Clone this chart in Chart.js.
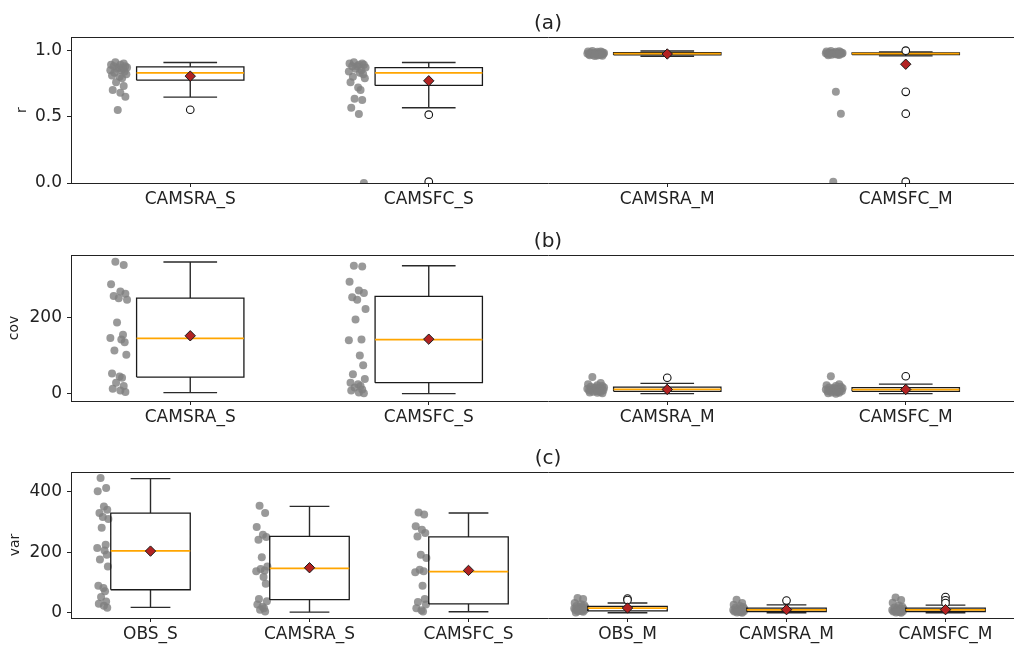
<!DOCTYPE html>
<html><head><meta charset="utf-8">
<script src="https://cdn.jsdelivr.net/npm/chart.js@4.4.0/dist/chart.umd.min.js"></script>
<style>
html,body{margin:0;padding:0;background:#fff;overflow:hidden;width:1014px;height:645px;}
#wrap{position:absolute;left:0;top:0;width:1014px;height:645px;overflow:hidden;}
.p{position:absolute;left:0;width:1030px;height:215px;}
</style></head><body>
<div id="wrap">
<div class="p" style="top:0px"><canvas id="ca" width="1030" height="215"></canvas></div>
<div class="p" style="top:218px"><canvas id="cb" width="1030" height="215"></canvas></div>
<div class="p" style="top:435px"><canvas id="cc" width="1030" height="215"></canvas></div>
</div>
<script>
// ---------- Panel (a): r ----------
const aCats = ['CAMSRA_S','CAMSFC_S','CAMSRA_M','CAMSFC_M'];
const aTicks = [0, 0.5, 1.0];
const aPoints = [
  [0.91,0.90,0.89,0.89,0.88,0.88,0.87,0.87,0.86,0.86,0.85,0.85,0.84,0.83,0.82,0.81,0.80,0.79,0.76,0.73,0.70,0.68,0.65,0.55],
  [0.91,0.90,0.90,0.89,0.89,0.88,0.88,0.87,0.86,0.85,0.84,0.83,0.82,0.80,0.79,0.76,0.72,0.70,0.635,0.625,0.567,0.52,0.0],
  [0.995,0.99,0.99,0.988,0.985,0.983,0.981,0.98,0.978,0.977,0.976,0.975,0.974,0.973,0.972,0.97,0.969,0.968,0.966,0.965,0.963,0.96,0.958,0.956],
  [0.995,0.993,0.99,0.988,0.985,0.984,0.982,0.98,0.979,0.978,0.977,0.976,0.975,0.974,0.973,0.972,0.97,0.968,0.966,0.964,0.962,0.687,0.522,0.01]
];
const aQ1   = [0.775, 0.735, 0.965, 0.967];
const aMed  = [0.83, 0.83, 0.975, 0.975];
const aQ3   = [0.875, 0.87, 0.982, 0.981];
const aWlo  = [0.647, 0.567, 0.955, 0.958];
const aWhi  = [0.908, 0.908, 0.995, 0.988];
const aMean = [0.805, 0.77, 0.972, 0.895];
const aOut  = [[0.552], [0.515, 0.01], [], [0.997, 0.687, 0.522, 0.01]];

// ---------- Panel (b): cov ----------
const bCats = ['CAMSRA_S','CAMSFC_S','CAMSRA_M','CAMSFC_M'];
const bTicks = [0, 200];
const bPoints = [
  [349,340,289,270,264,258,252,248,188,156,147,143,136,114,103,53,45,42,29,20,13,8,4],
  [338,336,296,273,266,255,248,224,196,143,141,101,75,51,39,29,25,20,16,11,8,3,1],
  [44,28,25,22,20,18,17,16,15,14,13,12,11,10,9,8,7,6,5,4,3,2,1],
  [46,25,22,20,18,16,15,14,13,12,11,10,9,8,7,6,5,4,3,2,1,0]
];
const bQ1   = [43.7, 29, 6, 6];
const bMed  = [146, 143, 11, 10.5];
const bQ3   = [252.6, 257, 17, 16];
const bWlo  = [2.6, 0, 0, 0];
const bWhi  = [348, 338, 27, 25];
const bMean = [153, 144, 11, 11];
const bOut  = [[], [], [42], [46]];

// ---------- Panel (c): var ----------
const cCats = ['OBS_S','CAMSRA_S','CAMSFC_S','OBS_M','CAMSRA_M','CAMSFC_M'];
const cTicks = [0, 200, 400];
const cPoints = [
  [446,413,402,352,341,330,317,310,281,225,214,206,192,176,153,89,82,71,52,37,30,23,16],
  [354,330,284,258,251,242,184,153,145,140,137,118,96,45,38,27,20,15,10,4],
  [332,325,286,275,264,252,192,181,142,137,134,89,45,35,27,15,8,4],
  [49,45,32,28,25,22,20,18,16,15,14,13,12,11,10,9,8,6,5,3,1],
  [43,32,26,22,19,16,14,12,11,10,9,8,7,6,5,4,3,2,1,0],
  [50,42,33,24,20,17,15,13,11,10,9,8,7,6,5,4,3,2,1,0]
];
const cQ1   = [76, 43, 29, 6, 4, 4];
const cMed  = [205, 147, 136, 15, 9, 9];
const cQ3   = [330, 253, 251, 21, 15, 15];
const cWlo  = [17.6, 2, 3, 0, 0, 0];
const cWhi  = [444, 352, 330, 32, 26, 25];
const cMean = [204, 149, 140, 15.5, 10, 10];
const cOut  = [[], [], [], [47, 42], [40], [52, 41, 32]];

// strip-plot horizontal jitter pattern (category units)
const jit = [-0.014,0.021,-0.032,0.007,0.028,-0.021,0.0,0.035,-0.007,0.018,-0.035,0.011,0.025,-0.018,0.032,-0.028,0.004,0.014,-0.011,0.021,-0.025,0.007,0.028,-0.004];

const FONT = 'DejaVu Sans';
const INK = '#222';
Chart.defaults.font.family = FONT;

function build(id, cfg) {
  const {title, ylabel, cats, pts, q1, med, q3, wlo, whi, mean, out, ymin, ymax, ticks, fmt, boxW, yPad, tPad} = cfg;
  const GAP = {x: NaN, y: null};
  const strip = [], outl = [], means = [], meds = [], boxes = [], whisk = [];
  const hw = boxW / 2, cw = boxW / 4;
  cats.forEach((c, i) => {
    const p = i + 1;
    pts[i].forEach((v, k) => strip.push({x: p - 0.3 + jit[k % jit.length], y: v}));
    out[i].forEach(v => outl.push({x: p, y: v}));
    means.push({x: p, y: mean[i]});
    meds.push({x: p - hw, y: med[i]}, {x: p + hw, y: med[i]}, GAP);
    boxes.push({x: p - hw, y: q1[i]}, {x: p + hw, y: q1[i]}, {x: p + hw, y: q3[i]}, {x: p - hw, y: q3[i]}, {x: p - hw, y: q1[i]}, GAP);
    whisk.push({x: p, y: q1[i]}, {x: p, y: wlo[i]}, GAP,
               {x: p, y: q3[i]}, {x: p, y: whi[i]}, GAP,
               {x: p - cw, y: wlo[i]}, {x: p + cw, y: wlo[i]}, GAP,
               {x: p - cw, y: whi[i]}, {x: p + cw, y: whi[i]}, GAP);
  });
  const lineDs = (data, color, w) => ({data, showLine: true, borderColor: color, borderWidth: w, pointRadius: 0, fill: false, spanGaps: false, clip: 0, borderCapStyle: 'butt', borderJoinStyle: 'miter'});
  const xMax = cats.length + 0.5;
  return new Chart(document.getElementById(id), {
    type: 'scatter',
    data: {datasets: [
      {data: means, pointStyle: 'rectRot', pointRadius: 5.2, backgroundColor: '#b22222', borderColor: '#1a1a1a', borderWidth: 1, clip: 0},
      {data: outl, pointStyle: 'circle', pointRadius: 3.8, backgroundColor: '#fff', borderColor: '#111', borderWidth: 1.1, clip: 0},
      lineDs(meds, '#ffa500', 1.8),
      lineDs(boxes, '#1a1a1a', 1.3),
      lineDs(whisk, '#2a2a2a', 1.4),
      {data: strip, pointRadius: 4, backgroundColor: 'rgba(128,128,128,0.8)', borderWidth: 0, clip: 0}
    ]},
    options: {
      responsive: false, animation: false, events: [],
      layout: {padding: {left: 0, right: 5, top: 0, bottom: 0}, autoPadding: false},
      plugins: {
        legend: {display: false}, tooltip: {enabled: false},
        title: {display: true, text: title, fullSize: false, color: INK,
                font: {family: FONT, size: 20, weight: 'normal'}, padding: {top: tPad, bottom: 37 - 24 - tPad}}
      },
      scales: {
        x: {
          type: 'linear', min: 0.5, max: xMax,
          afterBuildTicks: s => { s.ticks = cats.map((c, i) => ({value: i + 1})); },
          afterFit: s => { s.height = 32; },
          ticks: {autoSkip: false, maxRotation: 0, minRotation: 0, padding: 2, color: INK,
                  font: {family: FONT, size: 17}, callback: v => cats[Math.round(v) - 1]},
          grid: {display: true, drawOnChartArea: false, drawTicks: true, tickLength: 4, color: INK, tickColor: INK, tickWidth: 1},
          border: {display: true, color: INK, width: 1}
        },
        xTop: {
          type: 'linear', position: 'top', min: 0.5, max: xMax, display: true,
          afterFit: s => { s.height = 0; },
          ticks: {display: false}, grid: {display: false, drawTicks: false},
          border: {display: true, color: INK, width: 1}
        },
        y: {
          type: 'linear', min: ymin, max: ymax,
          afterBuildTicks: s => { s.ticks = ticks.map(v => ({value: v})); },
          afterFit: s => { s.width = 71; },
          ticks: {padding: 5, color: INK, font: {family: FONT, size: 17}, callback: v => fmt(v)},
          grid: {display: true, drawOnChartArea: false, drawTicks: true, tickLength: 4, color: INK, tickColor: INK, tickWidth: 1},
          border: {display: true, color: INK, width: 1},
          title: {display: true, text: ylabel, color: INK, font: {family: FONT, size: 14}, padding: {top: yPad, bottom: 0}}
        }
      }
    }
  });
}

build('ca', {title: '(a)', ylabel: 'r', cats: aCats, pts: aPoints, q1: aQ1, med: aMed, q3: aQ3, wlo: aWlo, whi: aWhi, mean: aMean, out: aOut,
  ymin: 0, ymax: 1.1, ticks: aTicks, fmt: v => v.toFixed(1), boxW: 0.45, yPad: 13.5, tPad: 12});
build('cb', {title: '(b)', ylabel: 'cov', cats: bCats, pts: bPoints, q1: bQ1, med: bMed, q3: bQ3, wlo: bWlo, whi: bWhi, mean: bMean, out: bOut,
  ymin: -19.5, ymax: 366.6, ticks: bTicks, fmt: v => String(v), boxW: 0.45, yPad: 6.3, tPad: 12});
build('cc', {title: '(c)', ylabel: 'var', cats: cCats, pts: cPoints, q1: cQ1, med: cMed, q3: cQ3, wlo: cWlo, whi: cWhi, mean: cMean, out: cOut,
  ymin: -17.6, ymax: 466, ticks: cTicks, fmt: v => String(v), boxW: 0.5, yPad: 6.8, tPad: 12});
</script>
</body></html>
